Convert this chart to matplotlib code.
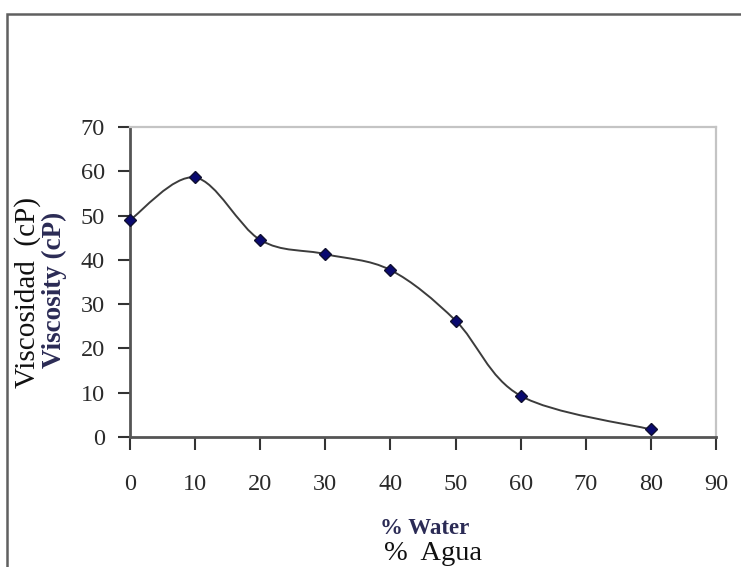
import matplotlib
matplotlib.use("Agg")
import matplotlib.pyplot as plt
import numpy as np
from matplotlib.path import Path
from matplotlib.patches import PathPatch, Rectangle

# ── Data ─────────────────────────────────────────────────────────────────────
water_pct = [0, 10, 20, 30, 40, 50, 60, 80]
viscosity = [49.0, 58.6, 44.5, 41.3, 37.7, 26.3, 9.3, 1.7]

x_ticks = [0, 10, 20, 30, 40, 50, 60, 70, 80, 90]
y_ticks = [0, 10, 20, 30, 40, 50, 60, 70]


def smooth_path(xs, ys):
    """Excel-style smoothed line: Catmull-Rom segments as cubic Beziers."""
    p = np.column_stack([xs, ys]).astype(float)
    ext = np.vstack([p[0], p, p[-1]])
    verts = [p[0]]
    codes = [Path.MOVETO]
    for i in range(len(p) - 1):
        p0, p1, p2, p3 = ext[i], ext[i + 1], ext[i + 2], ext[i + 3]
        c1 = p1 + (p2 - p0) / 6
        c2 = p2 - (p3 - p1) / 6
        verts += [c1, c2, p2]
        codes += [Path.CURVE4] * 3
    return Path(verts, codes)


serif = ["Liberation Serif", "DejaVu Serif"]
plt.rcParams["font.family"] = serif

fig = plt.figure(figsize=(7.41, 5.67), dpi=100)

# outer frame of the original figure (runs off the right and bottom edges)
fig.patches.append(Rectangle((7 / 741, -0.05), 1.0, 1 - 14 / 567 + 0.05,
                             transform=fig.transFigure, fill=False,
                             edgecolor="#606060", linewidth=1.8))

ax = fig.add_axes([130 / 741, 1 - 437 / 567, (716 - 130) / 741, (437 - 127) / 567])
ax.set_xlim(0, 90)
ax.set_ylim(0, 70)

ax.add_patch(PathPatch(smooth_path(water_pct, viscosity), fill=False,
                       edgecolor="#3c3c3c", linewidth=1.4, zorder=3))
ax.plot(water_pct, viscosity, linestyle="none", marker="D", markersize=6.5,
        markerfacecolor="#0a0a70", markeredgecolor="#101030", zorder=4,
        clip_on=False)

for side in ("left", "bottom"):
    ax.spines[side].set_color("#555555")
    ax.spines[side].set_linewidth(2.0)
for side in ("top", "right"):
    ax.spines[side].set_color("#c4c4c4")
    ax.spines[side].set_linewidth(1.6)

ax.set_xticks(x_ticks)
ax.set_yticks(y_ticks)
ax.tick_params(axis="both", direction="out", length=9, width=1.5,
               color="#333333", labelcolor="#2a2a2a", labelsize=17.5)
ax.tick_params(axis="x", pad=18)
ax.tick_params(axis="y", pad=9)

# stacked bilingual axis titles, as in the original
fig.text(28 / 741, 1 - 292 / 567, "Viscosidad  (cP)", rotation=90,
         ha="center", va="center", fontsize=21, color="#111111")
fig.text(54 / 741, 1 - 290 / 567, "Viscosity (cP)", rotation=90,
         ha="center", va="center", fontsize=19.5, fontweight="bold",
         color="#2b2b55")
fig.text(425 / 741, 1 - 529 / 567, "% Water", ha="center", va="center",
         fontsize=16.5, fontweight="bold", color="#2b2b55")
fig.text(433 / 741, 1 - 553 / 567, "%  Agua", ha="center", va="center",
         fontsize=20.5, color="#111111")

fig.savefig("out.png", dpi=100)
plt.close(fig)
